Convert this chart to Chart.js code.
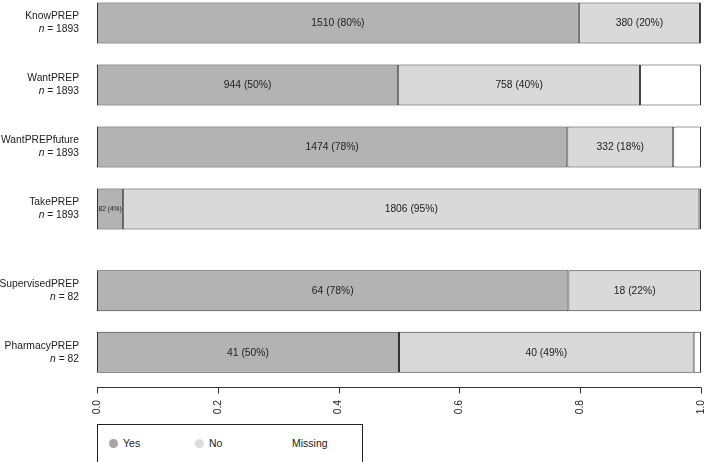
<!DOCTYPE html>
<html>
<head>
<meta charset="utf-8">
<script src="https://cdn.jsdelivr.net/npm/chart.js@4"></script>
<style>
  html, body { margin:0; padding:0; background:#fff; width:709px; height:462px; overflow:hidden; position:relative;
    font-family:"Liberation Sans", Arial, sans-serif; color:#222; }
  .wrap { position:absolute; left:0; width:709px; }
  #topWrap { top:-8px; height:248px; }
  #botWrap { top:260px; height:160px; }
  .legend { position:absolute; left:97px; top:424px; width:266px; height:40px; border:1px solid #222; box-sizing:border-box; font-size:10.5px; }
  .legend .dot { position:absolute; top:14px; width:9px; height:9px; border-radius:50%; }
  .legend .lbl { position:absolute; top:12px; }
</style>
</head>
<body>
<div class="wrap" id="topWrap"><canvas id="topChart"></canvas></div>
<div class="wrap" id="botWrap"><canvas id="botChart"></canvas></div>
<div class="legend">
  <span class="dot" style="left:11px;background:#a6a6a6"></span><span class="lbl" style="left:25px">Yes</span>
  <span class="dot" style="left:97px;background:#dcdcdc"></span><span class="lbl" style="left:111px">No</span>
  <span class="dot" style="left:181px;background:#fff"></span><span class="lbl" style="left:194px">Missing</span>
</div>
<script>
'use strict';

// ── DATA ──
const questions     = ['KnowPREP', 'WantPREP', 'WantPREPfuture', 'TakePREP', 'SupervisedPREP', 'PharmacyPREP'];
const totals        = [1893, 1893, 1893, 1893, 82, 82];
const yesCounts     = [1510, 944, 1474, 82, 64, 41];
const noCounts      = [380, 758, 332, 1806, 18, 40];
const missingCounts = [3, 191, 87, 5, 0, 1];
const topGroupSize  = 4;   // first block of questions, second block is asked only of TakePREP = yes

const COL_YES = '#b3b3b3', COL_NO = '#d9d9d9', COL_MISS = '#ffffff', COL_EDGE = '#333333';
const FONT = '"Liberation Sans", Arial, sans-serif';
const FS = 10.3;

// ── LABELS ON SEGMENTS ──
const segLabels = {
  id: 'segLabels',
  afterDatasetsDraw(chart) {
    const ctx = chart.ctx;
    const { counts, n } = chart.options.plugins.segLabels;
    ctx.save();
    ctx.fillStyle = '#222';
    ctx.textAlign = 'center';
    ctx.textBaseline = 'middle';
    [0, 1].forEach(di => {
      chart.getDatasetMeta(di).data.forEach((bar, i) => {
        const c = counts[di][i];
        const txt = `${c} (${Math.round(c / n[i] * 100)}%)`;
        const w = Math.abs(bar.x - bar.base);
        let size = FS;
        ctx.font = `${size}px ${FONT}`;
        const tw = ctx.measureText(txt).width;
        if (tw > w - 3) { size = size * (w - 3) / tw; ctx.font = `${size}px ${FONT}`; }
        ctx.fillText(txt, (bar.x + bar.base) / 2, bar.y + 0.5);
      });
    });
    ctx.restore();
  }
};

// ── QUESTION LABELS (name + italic n) ──
const rowLabels = {
  id: 'rowLabels',
  afterDraw(chart) {
    const ctx = chart.ctx;
    const { names, n } = chart.options.plugins.rowLabels;
    const xr = 79;
    ctx.save();
    ctx.fillStyle = '#222';
    ctx.textAlign = 'right';
    ctx.textBaseline = 'middle';
    names.forEach((name, i) => {
      const y = chart.scales.y.getPixelForValue(i);
      ctx.font = `${FS}px ${FONT}`;
      ctx.fillText(name, xr, y - 6.5);
      const rest = ` = ${n[i]}`;
      ctx.fillText(rest, xr, y + 6.5);
      const rw = ctx.measureText(rest).width;
      ctx.font = `italic ${FS}px ${FONT}`;
      ctx.fillText('n', xr - rw, y + 6.5);
    });
    ctx.restore();
  }
};

// ── R-STYLE X AXIS (line spans 0..1, ticks down) ──
const rAxis = {
  id: 'rAxis',
  afterDraw(chart) {
    if (!chart.options.plugins.rAxis.show) return;
    const ctx = chart.ctx, xs = chart.scales.x;
    const y = chart.chartArea.bottom + 4.5;
    ctx.save();
    ctx.strokeStyle = COL_EDGE;
    ctx.lineWidth = 1;
    ctx.beginPath();
    ctx.moveTo(xs.getPixelForValue(0), y);
    ctx.lineTo(xs.getPixelForValue(1), y);
    xs.ticks.forEach(t => {
      const x = Math.round(xs.getPixelForValue(t.value)) + 0.5;
      ctx.moveTo(x, y);
      ctx.lineTo(x, y + 6);
    });
    ctx.stroke();
    ctx.restore();
  }
};

function build(canvasId, from, to, showAxis) {
  const idx = questions.slice(from, to).map((_, i) => from + i);
  const n = idx.map(i => totals[i]);
  const yes = idx.map(i => yesCounts[i]);
  const no = idx.map(i => noCounts[i]);
  const miss = idx.map(i => missingCounts[i]);
  const ds = (label, counts, color) => ({
    label, data: counts.map((c, k) => c > 0 ? c / n[k] : null),
    backgroundColor: color, borderColor: COL_EDGE, borderWidth: 1, borderSkipped: false,
    barPercentage: 1, categoryPercentage: 0.665
  });

  const xScale = {
    display: showAxis, stacked: true, min: 0, max: 1,
    grid: { display: false, drawTicks: false },
    border: { display: false },
    ticks: {
      stepSize: 0.2, minRotation: 90, maxRotation: 90, padding: 17, color: '#222',
      font: { family: FONT, size: FS },
      callback: v => Number(v).toFixed(1)
    }
  };
  if (showAxis) xScale.afterFit = s => { s.height = 37; s.paddingLeft = 0; s.paddingRight = 0; };

  return new Chart(document.getElementById(canvasId), {
    type: 'bar',
    data: {
      labels: questions.slice(from, to),
      datasets: [ds('Yes', yes, COL_YES), ds('No', no, COL_NO), ds('Missing', miss, COL_MISS)]
    },
    options: {
      indexAxis: 'y',
      responsive: true,
      maintainAspectRatio: false,
      animation: false,
      layout: { autoPadding: false, padding: { left: 97, right: 8, top: 0, bottom: 0 } },
      plugins: {
        legend: { display: false },
        tooltip: { enabled: false },
        segLabels: { counts: [yes, no], n },
        rowLabels: { names: questions.slice(from, to), n },
        rAxis: { show: showAxis }
      },
      scales: {
        x: xScale,
        y: { display: false, stacked: true }
      }
    },
    plugins: [segLabels, rowLabels, rAxis]
  });
}

build('topChart', 0, topGroupSize, false);
build('botChart', topGroupSize, questions.length, true);
</script>
</body>
</html>
